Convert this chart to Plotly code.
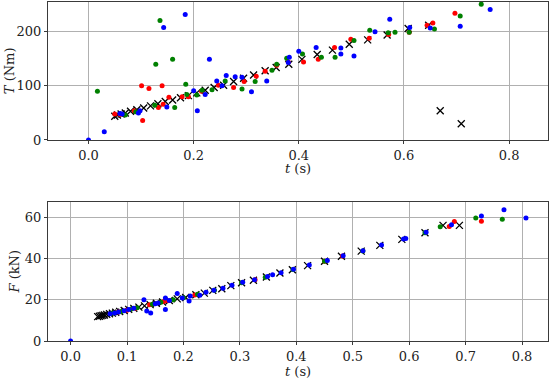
import plotly.graph_objects as go

# ---------------- Top panel: torque T (Nm) vs t (s) ----------------
top_black_t = [0.050, 0.055, 0.062, 0.070, 0.080, 0.092, 0.105, 0.118, 0.132, 0.146, 0.160, 0.175,
               0.190, 0.206, 0.222, 0.239, 0.257, 0.276, 0.295, 0.314, 0.336, 0.357, 0.381, 0.406,
               0.435, 0.464, 0.496, 0.531, 0.568, 0.608, 0.647, 0.669, 0.709]
top_black_T = [44, 46, 48, 50, 53, 56, 59, 63, 67, 71, 74, 78,
               82, 87, 92, 97, 101, 108, 114, 120, 128, 134, 140, 149,
               158, 166, 177, 185, 194, 206, 212, 54, 30]

top_red_t = [0.050, 0.060, 0.087, 0.101, 0.103, 0.115, 0.133, 0.140, 0.142, 0.153, 0.178, 0.190,
             0.215, 0.247, 0.276, 0.296, 0.319, 0.336, 0.358, 0.380, 0.409, 0.437, 0.468, 0.499,
             0.534, 0.571, 0.610, 0.644, 0.655, 0.697]
top_red_T = [48, 47, 54, 100, 36, 95, 60, 100, 66, 79, 80, 80,
             90, 101, 97, 108, 118, 127, 138, 144, 144, 149, 171, 186,
             188, 195, 199, 212, 216, 234]

top_green_t = [0.017, 0.070, 0.090, 0.126, 0.128, 0.136, 0.160, 0.164, 0.185, 0.187, 0.206, 0.216,
               0.235, 0.260, 0.292, 0.317, 0.349, 0.358, 0.377, 0.407, 0.443, 0.469, 0.505, 0.535,
               0.570, 0.583, 0.610, 0.658, 0.707, 0.747]
top_green_T = [90, 46, 52, 64, 140, 221, 149, 60, 103, 84, 83, 92,
               93, 109, 94, 108, 129, 140, 151, 159, 153, 153, 184, 203,
               198, 199, 199, 205, 229, 251]

top_blue_t = [0.000, 0.030, 0.060, 0.064, 0.095, 0.098, 0.143, 0.149, 0.184, 0.200, 0.207, 0.222,
              0.230, 0.244, 0.254, 0.262, 0.279, 0.292, 0.310, 0.339, 0.380, 0.382, 0.400, 0.433,
              0.480, 0.480, 0.505, 0.545, 0.573, 0.611, 0.650, 0.707, 0.764]
top_blue_T = [0, 15, 49, 48, 50, 54, 208, 61, 232, 91, 54, 84,
              149, 109, 100, 119, 117, 116, 89, 109, 143, 153, 164, 171,
              170, 159, 155, 200, 223, 208, 207, 210, 241]

# ---------------- Bottom panel: force F (kN) vs t (s) ----------------
bot_black_t = [0.048, 0.051, 0.054, 0.057, 0.060, 0.064, 0.069, 0.074, 0.080, 0.087, 0.095, 0.103,
               0.112, 0.121, 0.131, 0.141, 0.152, 0.163, 0.175, 0.189, 0.204, 0.222, 0.237, 0.252,
               0.268, 0.284, 0.303, 0.324, 0.347, 0.371, 0.393, 0.420, 0.450, 0.480, 0.515, 0.548,
               0.587, 0.628, 0.660, 0.689]
bot_black_F = [11.8, 12.0, 12.2, 12.4, 12.6, 12.9, 13.2, 13.5, 13.9, 14.3, 14.8, 15.3,
               15.8, 16.4, 17.0, 17.6, 18.3, 18.9, 19.6, 20.4, 21.1, 22.4, 23.2, 24.5,
               25.3, 26.8, 28.2, 29.4, 31.0, 32.9, 34.5, 36.5, 38.6, 41.0, 43.5, 46.3,
               49.2, 52.4, 56.0, 56.0]

bot_red_t = [0.085, 0.100, 0.115, 0.140, 0.165, 0.172, 0.220, 0.327, 0.450, 0.482, 0.671, 0.680, 0.728]
bot_red_F = [14.0, 14.9, 15.9, 17.6, 19.1, 19.5, 22.3, 29.6, 38.6, 41.2, 55.5, 57.9, 58.0]

bot_green_t = [0.075, 0.090, 0.108, 0.118, 0.145, 0.160, 0.182, 0.200, 0.225, 0.255, 0.303, 0.345,
               0.394, 0.450, 0.518, 0.628, 0.655, 0.718, 0.765]
bot_green_F = [13.6, 14.3, 15.5, 16.1, 17.8, 18.8, 20.0, 20.9, 22.6, 24.6, 28.2, 30.9,
               34.6, 38.6, 43.6, 52.4, 55.3, 59.5, 59.0]

bot_blue_t = [0.000, 0.070, 0.078, 0.085, 0.095, 0.103, 0.112, 0.130, 0.135, 0.142, 0.150, 0.155,
              0.168, 0.168, 0.175, 0.189, 0.198, 0.210, 0.212, 0.229, 0.240, 0.254, 0.270, 0.286,
              0.305, 0.326, 0.349, 0.358, 0.373, 0.395, 0.423, 0.455, 0.483, 0.518, 0.551, 0.590,
              0.594, 0.630, 0.675, 0.728, 0.768, 0.807]
bot_blue_F = [0.0, 13.2, 13.6, 14.0, 14.6, 15.2, 15.8, 20.0, 14.5, 13.5, 18.0, 18.4,
              20.8, 15.3, 19.6, 23.0, 20.8, 19.4, 21.8, 22.1, 23.6, 24.6, 25.5, 27.0,
              28.4, 29.6, 31.2, 32.1, 33.1, 34.8, 36.8, 39.0, 41.3, 43.7, 46.5, 49.4,
              49.6, 52.6, 56.3, 60.5, 63.6, 59.5]

xtick_top = [0.0, 0.2, 0.4, 0.6, 0.8]
ytick_top = [0, 100, 200]
xtick_bot = [0.0, 0.1, 0.2, 0.3, 0.4, 0.5, 0.6, 0.7, 0.8]
ytick_bot = [0, 20, 40, 60]

RED = "#ff0000"
GREEN = "#008000"
BLUE = "#0000ff"
FONT = "DejaVu Serif"
FS = 13

fig = go.Figure()

def add_panel(xa, ya, bt, by, rt, ry, gt, gy, ut, uy):
    fig.add_trace(go.Scatter(x=bt, y=by, mode="markers", xaxis=xa, yaxis=ya, hoverinfo="skip",
                             marker=dict(symbol="x-thin", size=7, line=dict(color="black", width=1.3))))
    for t, v, c in ((rt, ry, RED), (gt, gy, GREEN), (ut, uy, BLUE)):
        fig.add_trace(go.Scatter(x=t, y=v, mode="markers", xaxis=xa, yaxis=ya, hoverinfo="skip",
                                 marker=dict(size=5, color=c, line=dict(width=0))))

add_panel("x", "y", top_black_t, top_black_T, top_red_t, top_red_T,
          top_green_t, top_green_T, top_blue_t, top_blue_T)
add_panel("x2", "y2", bot_black_t, bot_black_F, bot_red_t, bot_red_F,
          bot_green_t, bot_green_F, bot_blue_t, bot_blue_F)

axis_common = dict(showline=True, mirror=True, linecolor="#3a3a3a", linewidth=1,
                   showgrid=True, gridcolor="#b0b0b0", gridwidth=1, zeroline=False,
                   ticks="outside", ticklen=3, tickcolor="#3a3a3a",
                   tickfont=dict(family=FONT, size=FS, color="#222"))

fig.update_layout(
    width=550, height=381,
    margin=dict(l=48, r=2, t=2, b=40, autoexpand=False),
    paper_bgcolor="white", plot_bgcolor="white",
    showlegend=False,
    font=dict(family=FONT, size=FS, color="#222"),
    xaxis=dict(domain=[0, 1], range=[-0.077, 0.874], anchor="y",
               tickvals=xtick_top, tickformat=".1f", **axis_common),
    yaxis=dict(domain=[0.593, 1], range=[0, 255], anchor="x",
               tickvals=ytick_top, **axis_common),
    xaxis2=dict(domain=[0, 1], range=[-0.04, 0.846], anchor="y2",
                tickvals=xtick_bot, tickformat=".1f", **axis_common),
    yaxis2=dict(domain=[0, 0.41], range=[0, 67.3], anchor="x2",
                tickvals=ytick_bot, **axis_common),
)

titles = [
    ("<i>t</i> (s)", 0.5, 0.510, 0),
    ("<i>t</i> (s)", 0.5, -0.0914, 0),
    ("<i>T</i> (Nm)", -0.078, 0.796, -90),
    ("<i>F</i> (kN)", -0.066, 0.205, -90),
]
for txt, x, y, ang in titles:
    fig.add_annotation(text=txt, x=x, y=y, xref="paper", yref="paper",
                       xanchor="center", yanchor="middle", showarrow=False,
                       textangle=ang, font=dict(family=FONT, size=FS, color="#222"))

fig.write_html("out.html", config={"displayModeBar": False},
               post_script="document.body.style.margin='0';document.body.style.padding='0';")
